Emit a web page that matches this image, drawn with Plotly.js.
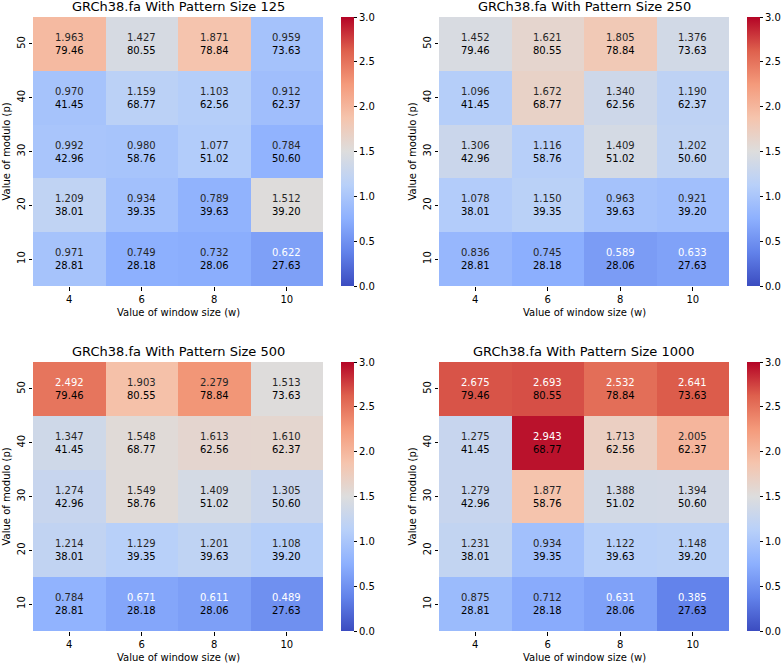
<!DOCTYPE html>
<html>
<head>
<meta charset="utf-8">
<script src="https://cdn.plot.ly/plotly-3.0.1.min.js"></script>
<style>html,body{margin:0;padding:0;background:#fff;}#chart{width:783px;height:664px;}</style>
</head>
<body>
<div id="chart"></div>
<script>
// ---- Data ----
const windowSizes = ['4', '6', '8', '10'];
const moduloValues = ['10', '20', '30', '40', '50'];
const patternSizes = [125, 250, 500, 1000];

// second-line values (rows: modulo 10..50, cols: window 4..10)
const secondValues = [
  [28.81, 28.18, 28.06, 27.63],
  [38.01, 39.35, 39.63, 39.20],
  [42.96, 58.76, 51.02, 50.60],
  [41.45, 68.77, 62.56, 62.37],
  [79.46, 80.55, 78.84, 73.63]
];

const values125 = [
  [0.971, 0.749, 0.732, 0.622],
  [1.209, 0.934, 0.789, 1.512],
  [0.992, 0.980, 1.077, 0.784],
  [0.970, 1.159, 1.103, 0.912],
  [1.963, 1.427, 1.871, 0.959]
];
const values250 = [
  [0.836, 0.745, 0.589, 0.633],
  [1.078, 1.150, 0.963, 0.921],
  [1.306, 1.116, 1.409, 1.202],
  [1.096, 1.672, 1.340, 1.190],
  [1.452, 1.621, 1.805, 1.376]
];
const values500 = [
  [0.784, 0.671, 0.611, 0.489],
  [1.214, 1.129, 1.201, 1.108],
  [1.274, 1.549, 1.409, 1.305],
  [1.347, 1.548, 1.613, 1.610],
  [2.492, 1.903, 2.279, 1.513]
];
const values1000 = [
  [0.875, 0.712, 0.631, 0.385],
  [1.231, 0.934, 1.122, 1.148],
  [1.279, 1.877, 1.388, 1.394],
  [1.275, 2.943, 1.713, 2.005],
  [2.675, 2.693, 2.532, 2.641]
];
const allValues = [values125, values250, values500, values1000];

// ---- Styling ----
const W = 783, H = 664;
const coolwarm = [
  [0.0, 'rgb(59,76,192)'],
  [0.125, 'rgb(98,130,234)'],
  [0.25, 'rgb(141,176,254)'],
  [0.375, 'rgb(184,208,249)'],
  [0.5, 'rgb(221,221,221)'],
  [0.625, 'rgb(245,196,173)'],
  [0.75, 'rgb(244,154,123)'],
  [0.875, 'rgb(222,96,77)'],
  [1.0, 'rgb(180,4,38)']
];
const ZMIN = 0, ZMAX = 3;

function colorAt(v) {
  const t = Math.max(0, Math.min(1, (v - ZMIN) / (ZMAX - ZMIN)));
  for (let i = 0; i < coolwarm.length - 1; i++) {
    const [t0, c0] = coolwarm[i], [t1, c1] = coolwarm[i + 1];
    if (t >= t0 && t <= t1) {
      const a = c0.match(/\d+/g).map(Number), b = c1.match(/\d+/g).map(Number);
      const f = (t - t0) / (t1 - t0);
      return a.map((x, k) => x + (b[k] - x) * f);
    }
  }
  return [180, 4, 38];
}
function luminance(rgb) {
  const lin = rgb.map(c => { c /= 255; return c <= 0.03928 ? c / 12.92 : Math.pow((c + 0.055) / 1.055, 2.4); });
  return 0.2126 * lin[0] + 0.7152 * lin[1] + 0.0722 * lin[2];
}

// pixel boxes for heatmaps [x0, x1, y0(top), y1(bottom)]
const boxes = [
  [33, 323, 17, 286],
  [439, 729, 17, 286],
  [33, 323, 362, 631],
  [439, 729, 362, 631]
];
const cbarX = [341, 747];

const font = 'DejaVu Sans, Liberation Sans, sans-serif';
const data = [];
const layout = {
  width: W, height: H,
  margin: {l: 0, r: 0, t: 0, b: 0},
  paper_bgcolor: '#fff', plot_bgcolor: '#fff',
  font: {family: font, size: 10, color: '#000'},
  showlegend: false,
  annotations: []
};

boxes.forEach((b, i) => {
  const n = i + 1;
  const xa = n === 1 ? 'x' : 'x' + n, ya = n === 1 ? 'y' : 'y' + n;
  const xk = n === 1 ? 'xaxis' : 'xaxis' + n, yk = n === 1 ? 'yaxis' : 'yaxis' + n;
  const dom = {x: [b[0] / W, b[1] / W], y: [1 - b[3] / H, 1 - b[2] / H]};
  const col = i % 2;
  data.push({
    type: 'heatmap',
    x: windowSizes, y: moduloValues, z: allValues[i],
    xaxis: xa, yaxis: ya,
    zmin: ZMIN, zmax: ZMAX,
    colorscale: coolwarm,
    hoverinfo: 'skip',
    colorbar: {
      x: cbarX[col] / W, xanchor: 'left', xpad: 0,
      y: (dom.y[0] + dom.y[1]) / 2, yanchor: 'middle', ypad: 0,
      len: dom.y[1] - dom.y[0], lenmode: 'fraction',
      thickness: 13, outlinewidth: 0,
      tickvals: [0, 0.5, 1, 1.5, 2, 2.5, 3],
      ticktext: ['0.0', '0.5', '1.0', '1.5', '2.0', '2.5', '3.0'],
      ticks: 'outside', ticklen: 3.5, tickwidth: 1, tickcolor: '#000',
      tickfont: {family: font, size: 10, color: '#000'}
    }
  });
  layout[xk] = {
    domain: dom.x, anchor: ya, type: 'category',
    range: [-0.5, windowSizes.length - 0.5], autorange: false,
    showgrid: false, zeroline: false, showline: false,
    ticks: 'outside', ticklen: 3.5, tickwidth: 1, tickcolor: '#000',
    tickfont: {family: font, size: 10, color: '#000'},
    fixedrange: true
  };
  layout[yk] = {
    domain: dom.y, anchor: xa, type: 'category',
    range: [-0.5, moduloValues.length - 0.5], autorange: false,
    showgrid: false, zeroline: false, showline: false,
    ticks: 'outside', ticklen: 3.5, tickwidth: 1, tickcolor: '#000',
    tickangle: -90,
    tickfont: {family: font, size: 10, color: '#000'},
    fixedrange: true
  };
  // title
  layout.annotations.push({
    xref: 'paper', yref: 'paper',
    x: (dom.x[0] + dom.x[1]) / 2, xanchor: 'center', y: dom.y[1],
    yanchor: 'bottom', yshift: 1, showarrow: false,
    text: 'GRCh38.fa With Pattern Size ' + patternSizes[i],
    font: {family: font, size: 13, color: '#000'}
  });
  // x title
  layout.annotations.push({
    xref: 'paper', yref: 'paper',
    x: (dom.x[0] + dom.x[1]) / 2, xanchor: 'center', y: dom.y[0],
    yanchor: 'middle', yshift: -26, showarrow: false,
    text: 'Value of window size (w)',
    font: {family: font, size: 10, color: '#000'}
  });
  // y title
  layout.annotations.push({
    xref: 'paper', yref: 'paper',
    x: dom.x[0], xanchor: 'center', xshift: -27,
    y: (dom.y[0] + dom.y[1]) / 2, yanchor: 'middle',
    textangle: -90, showarrow: false,
    text: 'Value of modulo (p)',
    font: {family: font, size: 10, color: '#000'}
  });
  // cell labels (category axes use index positions)
  allValues[i].forEach((row, r) => {
    row.forEach((v, c) => {
      const lum = luminance(colorAt(v));
      const c1 = lum > 0.408 ? '#262626' : '#ffffff';
      layout.annotations.push({
        xref: xa, yref: ya, x: c, y: r,
        showarrow: false,
        text: '<span style="color:' + c1 + '">' + v.toFixed(3) + '</span><br>' +
              '<span style="color:#000">' + secondValues[r][c].toFixed(2) + '</span>',
        font: {family: font, size: 10}
      });
    });
  });
});

Plotly.newPlot('chart', data, layout, {displayModeBar: false, staticPlot: true});
</script>
</body>
</html>
